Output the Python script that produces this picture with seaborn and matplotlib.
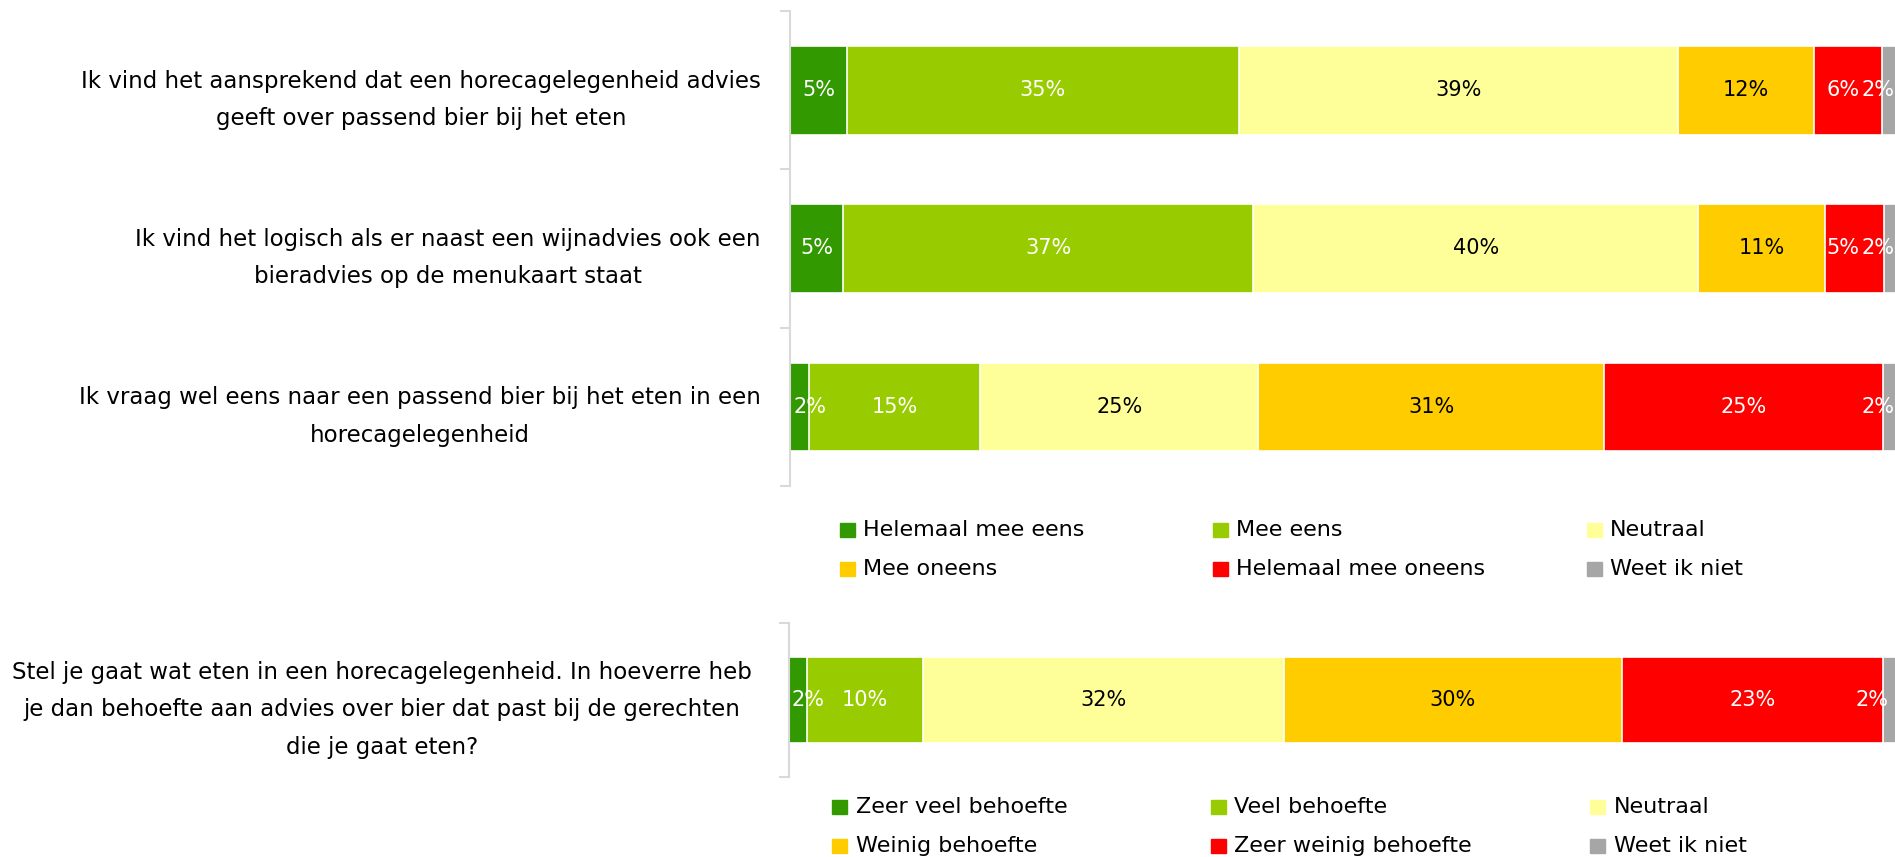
import numpy as np
import pandas as pd
import matplotlib
matplotlib.use("Agg")
import matplotlib.pyplot as plt
import seaborn as sns
from matplotlib.patches import Rectangle

# ---------------- data ----------------
questions_top = [
    "Ik vind het aansprekend dat een horecagelegenheid advies\ngeeft over passend bier bij het eten",
    "Ik vind het logisch als er naast een wijnadvies ook een\nbieradvies op de menukaart staat",
    "Ik vraag wel eens naar een passend bier bij het eten in een\nhorecagelegenheid",
]
answers_top = ["Helemaal mee eens", "Mee eens", "Neutraal",
               "Mee oneens", "Helemaal mee oneens", "Weet ik niet"]
helemaal_eens = [5.1, 4.8, 1.7]
mee_eens = [35.2, 36.8, 15.4]
neutraal = [39.4, 39.9, 24.9]
mee_oneens = [12.2, 11.4, 31.1]
helemaal_oneens = [6.1, 5.3, 25.0]
weet_niet_top = [2.0, 1.8, 1.9]

question_bottom = [
    "Stel je gaat wat eten in een horecagelegenheid. In hoeverre heb\n"
    "je dan behoefte aan advies over bier dat past bij de gerechten\n"
    "die je gaat eten?"
]
answers_bottom = ["Zeer veel behoefte", "Veel behoefte", "Neutraal",
                  "Weinig behoefte", "Zeer weinig behoefte", "Weet ik niet"]
behoefte = [1.6, 10.4, 32.4, 30.4, 23.4, 1.8]

colors = ["#339900", "#99cc00", "#ffff99", "#ffcc00", "#ff0000", "#a6a6a6"]
label_colors = ["white", "white", "black", "black", "white", "white"]

# ---------------- setup ----------------
sns.set_theme(style="white")
plt.rcParams['font.family'] = ['DejaVu Sans']

W, H = 1895, 857
PX = 11.14  # pixels per percent
fig = plt.figure(figsize=(W / 100, H / 100), dpi=100)


def stacked(ax, questions, answers, series, lo, hi, pad):
    rows = []
    for a, vals in zip(answers, series):
        for q, v in zip(questions, vals):
            rows.append({"question": q, "answer": a, "value": v})
    df = pd.DataFrame(rows)
    df["cum"] = df.groupby("question")["value"].cumsum()
    df["start"] = df["cum"] - df["value"]

    # draw cumulative bars from largest to smallest -> stacked look
    for i in reversed(range(len(answers))):
        sub = df[df["answer"] == answers[i]]
        sns.barplot(data=sub, x="cum", y="question", order=questions,
                    color=colors[i], saturation=1, orient="h", width=0.56,
                    edgecolor="white", linewidth=1.2, errorbar=None, ax=ax)

    # data labels, kept inside the plot and pushed apart when crowded
    for yi, q in enumerate(questions):
        sub = df[df["question"] == q].reset_index(drop=True)
        xs = [min(max(s + v / 2, lo), hi) for s, v in zip(sub["start"], sub["value"])]
        for k in range(len(xs) - 2, -1, -1):
            if xs[k] > xs[k + 1] - 3.2:
                xs[k] = xs[k + 1] - 3.2
        for k, r in sub.iterrows():
            i = answers.index(r["answer"])
            ax.text(xs[k], yi, f"{round(r['value'])}%", ha="center", va="center",
                    color=label_colors[i], fontsize=15)

    n = len(questions)
    ax.set_xlim(0, 100)
    ax.set_ylim(n - 0.5, -0.5)
    ax.set_xlabel("")
    ax.set_ylabel("")
    ax.set_xticks([])
    ax.set_yticks(range(n))
    ax.set_yticklabels(questions, fontsize=16.5, color="black")
    for t in ax.get_yticklabels():
        t.set_multialignment("center")
        t.set_linespacing(1.8)
    ax.set_yticks(np.arange(n + 1) - 0.5, minor=True)
    ax.tick_params(axis="y", which="major", length=0, pad=pad)
    ax.tick_params(axis="y", which="minor", length=7, width=1.5,
                   color="#d9d9d9", left=True)
    for s in ["top", "right", "bottom"]:
        ax.spines[s].set_visible(False)
    ax.spines["left"].set_color("#d9d9d9")
    ax.spines["left"].set_linewidth(1.5)


def legend(labels, x_marks, x_texts, y_rows):
    for k, lab in enumerate(labels):
        r, c = divmod(k, 3)
        y = y_rows[r]
        fig.patches.append(Rectangle((x_marks[c] / W, (H - y - 7) / H), 15 / W, 14 / H,
                                     transform=fig.transFigure, color=colors[k],
                                     figure=fig))
        fig.text(x_texts[c] / W, (H - y) / H, lab, ha="left", va="center",
                 fontsize=16, color="black")


ax1 = fig.add_axes([790 / W, (H - 486) / H, 100 * PX / W, 475 / H])
stacked(ax1, questions_top, answers_top,
        [helemaal_eens, mee_eens, neutraal, mee_oneens, helemaal_oneens, weet_niet_top],
        1.8, 97.7, 21)

ax2 = fig.add_axes([789 / W, (H - 777) / H, 100 * PX / W, 154 / H])
stacked(ax2, question_bottom, answers_bottom, [[v] for v in behoefte], 1.7, 97.2, 26.5)

legend(answers_top, [840, 1213, 1587], [863, 1236, 1610], [530, 569])
legend(answers_bottom, [832, 1211, 1590], [856, 1234, 1614], [807, 846])

fig.savefig("out.png", dpi=100)
